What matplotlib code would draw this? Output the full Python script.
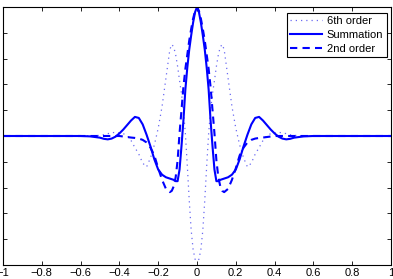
import numpy as np
import matplotlib
matplotlib.use("Agg")
import matplotlib.pyplot as plt

plt.rcParams['font.family'] = ['Liberation Sans', 'DejaVu Sans']

# values
x = [-1.0, -0.70, -0.60, -0.55, -0.50, -0.48, -0.46, -0.44, -0.42, -0.40, -0.38,
     -0.36, -0.34, -0.32, -0.30, -0.28, -0.26, -0.24, -0.22, -0.20, -0.18, -0.16,
     -0.14, -0.13, -0.12, -0.11, -0.10, -0.09, -0.08, -0.07, -0.06, -0.05, -0.04,
     -0.03, -0.02, -0.01, 0.0,
     0.01, 0.02, 0.03, 0.04, 0.05, 0.06, 0.07, 0.08, 0.09, 0.10, 0.11, 0.12,
     0.13, 0.14, 0.16, 0.18, 0.20, 0.22, 0.24, 0.26, 0.28, 0.30, 0.32, 0.34,
     0.36, 0.38, 0.40, 0.42, 0.44, 0.46, 0.48, 0.50, 0.55, 0.60, 0.70, 1.0]

sixth_order = [0.0, 0.0, 0.0, 0.0, 0.005, 0.01, 0.018, 0.025, 0.028, 0.025, 0.018,
               0.003, -0.035, -0.09, -0.14, -0.21, -0.24, -0.17, -0.07, 0.06, 0.23, 0.45,
               0.67, 0.71, 0.69, 0.63, 0.54, 0.43, 0.33, 0.20, 0.02, -0.23, -0.50,
               -0.73, -0.88, -0.955, -0.97,
               -0.955, -0.88, -0.73, -0.50, -0.23, 0.02, 0.20, 0.33, 0.43, 0.54, 0.63, 0.69,
               0.71, 0.67, 0.45, 0.23, 0.06, -0.07, -0.17, -0.24, -0.21, -0.14, -0.09, -0.035,
               0.003, 0.018, 0.025, 0.028, 0.025, 0.018, 0.01, 0.005, 0.0, 0.0, 0.0, 0.0]

summation = [0.0, 0.0, 0.0, -0.003, -0.013, -0.022, -0.026, -0.02, -0.005, 0.02, 0.05,
             0.085, 0.12, 0.148, 0.14, 0.09, 0.01, -0.08, -0.18, -0.26, -0.30, -0.32,
             -0.33, -0.335, -0.34, -0.35, -0.35, -0.26, -0.08, 0.12, 0.36, 0.53, 0.67,
             0.78, 0.88, 0.96, 1.0,
             0.96, 0.88, 0.78, 0.67, 0.53, 0.36, 0.12, -0.08, -0.26, -0.35, -0.35, -0.34,
             -0.335, -0.33, -0.32, -0.30, -0.26, -0.18, -0.08, 0.01, 0.09, 0.14, 0.148, 0.12,
             0.085, 0.05, 0.02, -0.005, -0.02, -0.026, -0.022, -0.013, -0.003, 0.0, 0.0, 0.0]

second_order = [0.0, 0.0, 0.0, 0.0, 0.0, 0.0, 0.0, 0.0, 0.0, 0.0, -0.004,
                -0.008, -0.012, -0.015, -0.02, -0.03, -0.05, -0.09, -0.15, -0.25, -0.34, -0.41,
                -0.435, -0.425, -0.39, -0.32, -0.19, 0.02, 0.20, 0.38, 0.52, 0.63, 0.74,
                0.83, 0.91, 0.97, 1.0,
                0.97, 0.91, 0.83, 0.74, 0.63, 0.52, 0.38, 0.20, 0.02, -0.19, -0.32, -0.39,
                -0.425, -0.435, -0.41, -0.34, -0.25, -0.15, -0.09, -0.05, -0.03, -0.02, -0.015, -0.012,
                -0.008, -0.004, 0.0, 0.0, 0.0, 0.0, 0.0, 0.0, 0.0, 0.0, 0.0, 0.0]

xticks = [-1, -0.8, -0.6, -0.4, -0.2, 0, 0.2, 0.4, 0.6, 0.8, 1]
xticklabels = ['\u22121', '\u22120.8', '\u22120.6', '\u22120.4', '\u22120.2', '0',
               '0.2', '0.4', '0.6', '0.8', '1']

fig = plt.figure(figsize=(3.93, 2.79), dpi=100)
ax = fig.add_axes([3 / 393, 14 / 279, 388 / 393, 258 / 279])

ax.plot(x, sixth_order, color='#6a6af2', lw=0.9, linestyle=(0, (1, 3.2)), label='6th order')
ax.plot(x, summation, color='#0000ff', lw=1.5, label='Summation')
ax.plot(x, second_order, color='#0000ff', lw=1.5, linestyle=(0, (3.5, 2.5)), label='2nd order')

ax.set_xlim(-1, 1)
ax.set_ylim(-1, 1)
ax.set_xticks(xticks)
ax.set_xticklabels(xticklabels, fontsize=8)
ax.set_yticks(np.arange(-1, 1.01, 0.2))
ax.tick_params(axis='both', direction='in', length=3, width=0.6,
               top=True, right=True, labelleft=False, pad=2)
for s in ax.spines.values():
    s.set_linewidth(0.8)

leg = ax.legend(loc='upper right', bbox_to_anchor=(0.989, 0.978), fontsize=8,
                fancybox=False, framealpha=1, edgecolor='black',
                handlelength=2.9, handletextpad=0.4, borderpad=0.3,
                labelspacing=0.35, borderaxespad=0)
leg.get_frame().set_linewidth(0.8)

fig.savefig('out.png', dpi=100)
